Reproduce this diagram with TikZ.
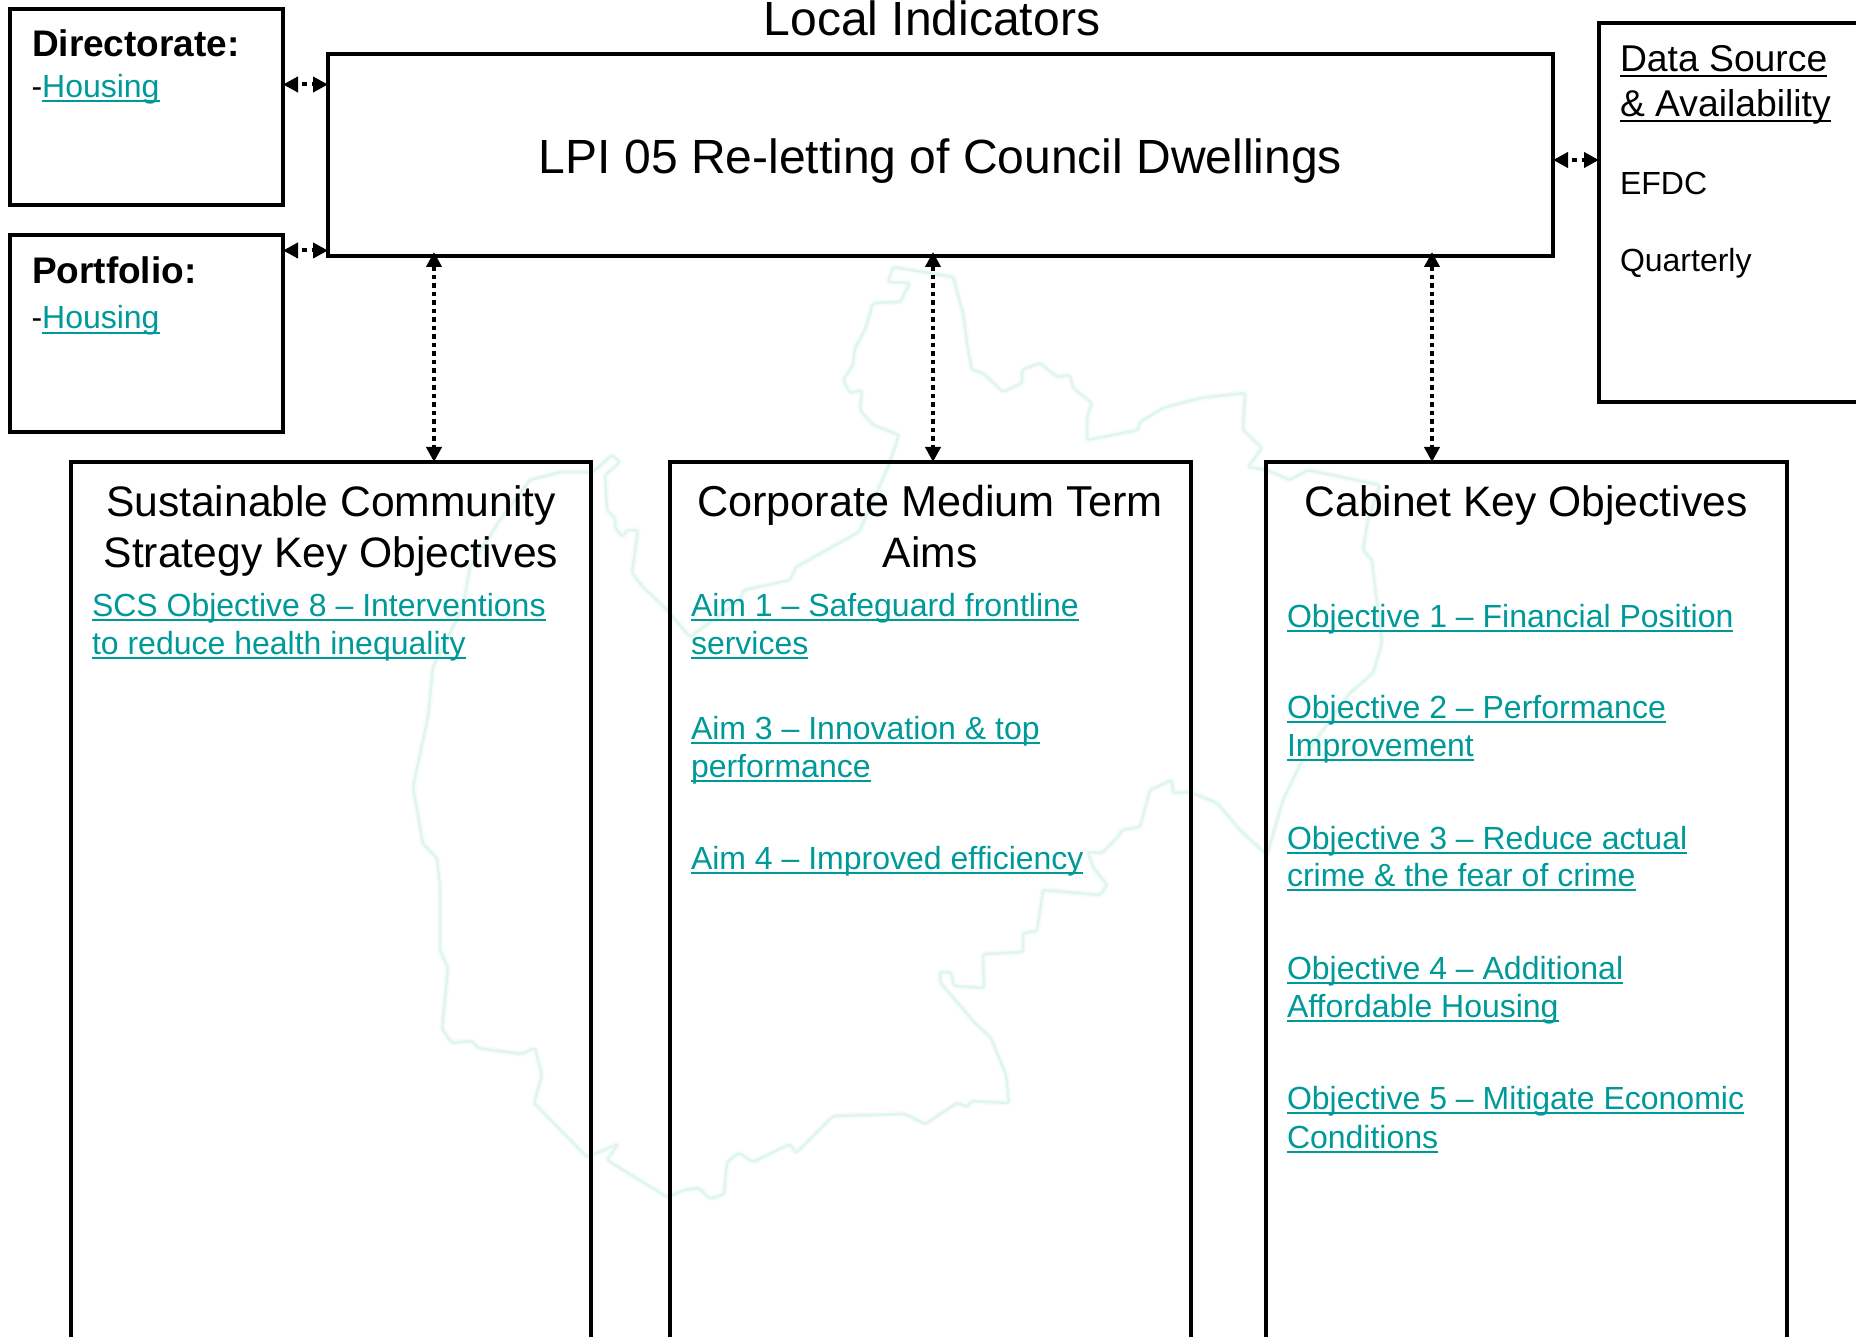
\documentclass[tikz,border=0pt]{standalone}
\usepackage{fontspec}
\setmainfont{Liberation Sans}
\usetikzlibrary{arrows.meta}
\definecolor{lnkcol}{HTML}{009999}
\definecolor{mapcol}{HTML}{E0F6EC}
\definecolor{mapsoft}{HTML}{F5FCF9}
\newcommand{\lnk}[1]{\textcolor{lnkcol}{\setbox0=\hbox{#1}\rlap{\rule[-5pt]{\wd0}{2pt}}\box0}}
\newcommand{\blk}[1]{\setbox0=\hbox{#1}\rlap{\rule[-5pt]{\wd0}{2pt}}\box0}
\newcommand{\fs}[1]{\fontsize{#1pt}{#1pt}\selectfont}
\tikzset{
  panel/.style={draw=black,line width=3.5pt,rectangle,anchor=north west,inner sep=0pt,outer sep=0pt},
  txt/.style={inner sep=0pt,outer sep=0pt,anchor=base west,text=black},
  ctr/.style={inner sep=0pt,outer sep=0pt,anchor=base,text=black},
  huge/.style={font=\fs{48}},
  head/.style={font=\fs{42.6}},
  headwide/.style={font=\fs{43.2}},
  bold/.style={font=\fs{37}\bfseries},
  link/.style={font=\fs{32}},
  subhead/.style={font=\fs{37.3}},
  hconn/.style={line width=4pt,{Triangle[length=15pt,width=15pt]}-{Triangle[length=15pt,width=15pt]},dash pattern=on 4.5pt off 5pt,dash phase=4.5pt},
  vconn/.style={line width=4pt,{Triangle[length=15pt,width=15pt]}-{Triangle[length=15pt,width=15pt]},dash pattern=on 4.5pt off 4pt,shorten <=-4pt},
  mapline/.style={line join=round,line cap=round,rounded corners=2.5pt}
}
\begin{document}
\begin{tikzpicture}[x=1pt,y=-1pt]
\clip (0,0) rectangle (1856,1337);
\def\mappath{(893,267)--(953,277)--(963,313)--(968,350)--(972,370)--(983,373)--(1003,392)--(1022,383)--(1022,370)--(1040,363)--(1057,377)--(1070,375)--(1073,388)--(1092,403)--(1087,417)--(1087,440)--(1138,430)--(1140,422)--(1163,408)--(1200,398)--(1245,393)--(1243,430)--(1262,448)--(1248,467)--(1267,470)--(1290,480)--(1308,470)--(1380,485)--(1368,520)--(1363,550)--(1372,560)--(1375,587)--(1382,643)--(1373,673)--(1350,693)--(1323,730)--(1300,765)--(1283,800)--(1267,855)--(1240,830)--(1217,803)--(1190,792)--(1173,793)--(1172,780)--(1150,790)--(1140,827)--(1122,830)--(1118,837)--(1102,853)--(1088,852)--(1093,867)--(1107,885)--(1100,895)--(1043,890)--(1037,931)--(1023,933)--(1023,952)--(983,954)--(984,988)--(954,986)--(951,972)--(940,972)--(940,982)--(974,1022)--(991,1038)--(1006,1075)--(1009,1103)--(971,1101)--(968,1107)--(957,1103)--(925,1124)--(905,1114)--(833,1116)--(796,1153)--(790,1144)--(753,1162)--(739,1153)--(727,1162)--(724,1194)--(710,1199)--(699,1188)--(684,1190)--(667,1197)--(607,1160)--(618,1144)--(587,1157)--(534,1103)--(542,1075)--(535,1048)--(521,1054)--(478,1048)--(472,1041)--(452,1043)--(442,1029)--(448,968)--(440,950)--(440,887)--(437,858)--(423,844)--(413,787)--(428,717)--(433,667)--(463,607)--(470,567)--(500,520)--(530,480)--(560,472)--(593,472)--(612,455)--(620,462)--(605,475)--(607,510)--(615,518)--(615,528)--(623,537)--(627,530)--(638,530)--(632,573)--(643,587)--(667,610)--(690,637)--(739,601)--(744,590)--(790,580)--(796,567)--(859,532)--(888,467)--(899,435)--(873,425)--(860,410)--(862,390)--(850,393)--(843,380)--(853,365)--(855,348)--(865,330)--(873,303)--(900,302)--(910,283)--(888,282)--cycle}
\draw[mapline,draw=mapsoft,line width=6pt] \mappath;
\draw[mapline,draw=mapcol,line width=2.5pt] \mappath;

% panels
\node[panel,minimum width=273pt,minimum height=196pt] (dir) at (10,9) {};
\node[panel,minimum width=273pt,minimum height=197pt] (port) at (10,235) {};
\node[panel,minimum width=1225pt,minimum height=202pt] (main) at (328,54) {};
\node[panel,minimum width=320pt,minimum height=379pt] (data) at (1599,23) {};
\node[panel,minimum width=520pt,minimum height=950pt] (scs) at (71,462) {};
\node[panel,minimum width=521pt,minimum height=950pt] (cmt) at (670,462) {};
\node[panel,minimum width=521pt,minimum height=950pt] (cab) at (1266,462) {};

% connector heights and positions
\coordinate (ya) at (0,84.5);
\coordinate (yb) at (0,250.5);
\coordinate (yc) at (0,160);
\coordinate (xa) at (434,0);
\coordinate (xb) at (933,0);
\coordinate (xc) at (1432,0);
\draw[hconn] (dir.east |- ya) -- (main.west |- ya);
\draw[hconn] (port.east |- yb) -- (main.west |- yb);
\draw[hconn] (main.east |- yc) -- (data.west |- yc);
\draw[vconn] (main.south -| xa) -- (scs.north -| xa);
\draw[vconn] (main.south -| xb) -- (cmt.north -| xb);
\draw[vconn] (main.south -| xc) -- (cab.north -| xc);

% texts
\node[ctr,huge] (tlocal) at (932,36) {Local Indicators};
\node[ctr,huge] (tlpi) at (940.5,174) {LPI 05 Re-letting of Council Dwellings};

\node[txt,bold] (tdir) at (32,57) {Directorate:};
\node[txt,link] (tdirh) at (31.5,97.5) {-\lnk{Housing}};
\node[txt,bold] (tport) at (32,284) {Portfolio:};
\node[txt,link] (tporth) at (31.5,329) {-\lnk{Housing}};

\node[txt,subhead] (td1) at (1620,72) {\blk{Data Source}};
\node[txt,subhead] (td2) at (1620,117) {\blk{\& Availability}};
\node[txt,link] (td3) at (1620,195) {EFDC};
\node[txt,link] (td4) at (1620,272) {Quarterly};

\node[ctr,head] (h1a) at (331,516) {Sustainable Community};
\node[ctr,head] (h1b) at (331,567) {Strategy Key Objectives};
\node[ctr,headwide] (h2a) at (930,516) {Corporate Medium Term};
\node[ctr,head] (h2b) at (930,567) {Aims};
\node[ctr,head] (h3a) at (1526,516) {Cabinet Key Objectives};

\node[txt,link] (s1) at (92,616) {\lnk{SCS Objective 8 – Interventions}};
\node[txt,link] (s2) at (92,654) {\lnk{to reduce health inequality}};

\node[txt,link] (a1) at (691,616) {\lnk{Aim 1 – Safeguard frontline}};
\node[txt,link] (a2) at (691,654) {\lnk{services}};
\node[txt,link] (a3) at (691,739) {\lnk{Aim 3 – Innovation \& top}};
\node[txt,link] (a4) at (691,777) {\lnk{performance}};
\node[txt,link] (a5) at (691,869) {\lnk{Aim 4 – Improved efficiency}};

\node[txt,link] (o1) at (1287,627) {\lnk{Objective 1 – Financial Position}};
\node[txt,link] (o2) at (1287,718) {\lnk{Objective 2 – Performance}};
\node[txt,link] (o3) at (1287,756) {\lnk{Improvement}};
\node[txt,link] (o4) at (1287,849) {\lnk{Objective 3 – Reduce actual}};
\node[txt,link] (o5) at (1287,886) {\lnk{crime \& the fear of crime}};
\node[txt,link] (o6) at (1287,979) {\lnk{Objective 4 – Additional}};
\node[txt,link] (o7) at (1287,1017) {\lnk{Affordable Housing}};
\node[txt,link] (o8) at (1287,1109) {\lnk{Objective 5 – Mitigate Economic}};
\node[txt,link] (o9) at (1287,1148) {\lnk{Conditions}};
\end{tikzpicture}
\end{document}
